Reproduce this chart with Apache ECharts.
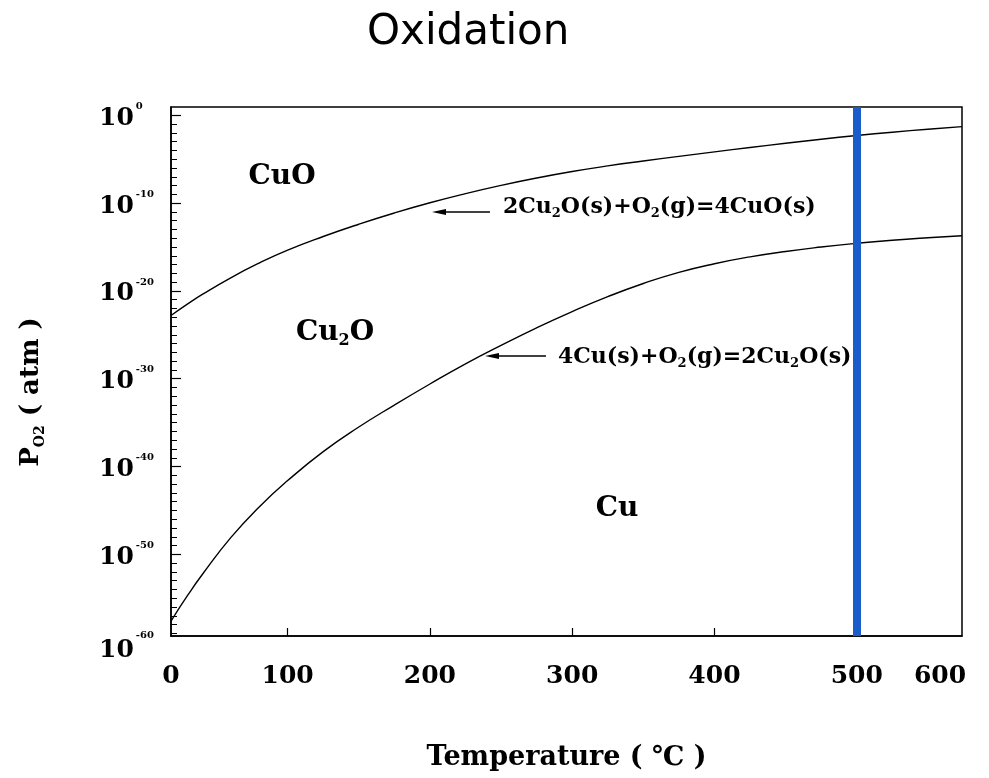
<!DOCTYPE html>
<html>
<head>
<meta charset="utf-8">
<title>Oxidation</title>
<script src="https://cdn.jsdelivr.net/npm/echarts@6/dist/echarts.min.js"></script>
<style>
  html, body { margin: 0; padding: 0; background: #fff; }
  #chart { width: 989px; height: 778px; }
</style>
</head>
<body>
<div id="chart"></div>
<script>
// Temperature samples (°C) for the two equilibrium lines
const tempC = [18, 30, 40, 60, 80, 100, 125, 150, 175, 200, 225, 250, 275, 300, 325, 350, 375, 400, 425, 450, 475, 500, 525, 550, 574];

// log10 of equilibrium O2 pressure (atm): 2Cu2O(s)+O2(g)=4CuO(s)
const cuoLogP = [-22.8, -21.45, -20.4, -18.5, -16.82, -15.35, -13.8, -12.4, -11.12, -9.96, -8.92, -7.98, -7.14, -6.4, -5.76, -5.2, -4.67, -4.16, -3.66, -3.18, -2.72, -2.3, -1.92, -1.58, -1.28];

// log10 of equilibrium O2 pressure (atm): 4Cu(s)+O2(g)=2Cu2O(s)
const cu2oLogP = [-57.6, -54.6, -52.3, -48.1, -44.6, -41.6, -38.3, -35.5, -33.0, -30.6, -28.3, -26.2, -24.2, -22.35, -20.65, -19.15, -17.88, -16.9, -16.12, -15.5, -15.0, -14.58, -14.22, -13.94, -13.72];

// Working temperature marker (°C)
const markerTemp = [500];

// Axis extents and tick values
const tempRange = [18, 574];
const tempTicks = [100, 200, 300, 400, 500];
const logPRange = [-59.3, 0.95];
const logPMajor = [0, -10, -20, -30, -40, -50];

const serif = "'DejaVu Serif', serif";

function pairs(xs, ys) { return xs.map((x, i) => [x, ys[i]]); }
function intsBetween(a, b) {
  const out = [];
  for (let v = Math.ceil(a); v <= Math.floor(b); v++) out.push(v);
  return out;
}

const chart = echarts.init(document.getElementById('chart'), null, { renderer: 'canvas' });

const option = {
  backgroundColor: '#ffffff',
  animation: false,
  title: {
    text: 'Oxidation',
    left: 362,
    top: 7,
    textStyle: { fontFamily: "'DejaVu Sans', sans-serif", fontWeight: 'normal', fontSize: 42, color: '#000' }
  },
  grid: {
    left: 171, right: 27, top: 107, bottom: 142,
    show: true, borderColor: '#000', borderWidth: 1.5,
    outerBoundsMode: 'none'
  },
  xAxis: {
    type: 'value',
    min: tempRange[0], max: tempRange[1],
    name: 'Temperature ( \u2103 )',
    nameLocation: 'middle',
    nameGap: 108,
    nameTextStyle: { fontFamily: serif, fontWeight: 'bold', fontSize: 27, color: '#000' },
    axisLine: { show: true, onZero: false, lineStyle: { color: '#000', width: 1.5 } },
    axisTick: { show: true, inside: true, length: 8, customValues: tempTicks, lineStyle: { color: '#000', width: 1.2 } },
    axisLabel: {
      show: true,
      margin: 28,
      customValues: [tempRange[0]].concat(tempTicks, [tempRange[1]]),
      formatter: v => {
        const n = Math.round(v / 100) * 100;
        return v === tempRange[1] ? '{end|' + n + '}' : '{n|' + n + '}';
      },
      rich: {
        n: { fontFamily: serif, fontWeight: 'bold', fontSize: 25, color: '#000' },
        end: { fontFamily: serif, fontWeight: 'bold', fontSize: 25, color: '#000', padding: [0, 44, 0, 0] }
      }
    },
    splitLine: { show: false }
  },
  yAxis: [
    {
      type: 'value',
      min: logPRange[0], max: logPRange[1],
      axisLine: { show: true, onZero: false, lineStyle: { color: '#000', width: 1.5 } },
      axisTick: { show: true, inside: true, length: 10, customValues: logPMajor, lineStyle: { color: '#000', width: 1.2 } },
      axisLabel: {
        show: true,
        align: 'left',
        margin: 72,
        customValues: logPMajor.concat([logPRange[0]]),
        formatter: v => {
          const e = Math.round(v / 10) * 10;
          const exp = e === 0 ? '0' : String(e);
          return v === logPRange[0] ? '{bl|10}{el|' + exp + '}' : '{b|10}{e|' + exp + '}';
        },
        rich: {
          b: { fontFamily: serif, fontWeight: 'bold', fontSize: 25, color: '#000', lineHeight: 28, padding: [6, 0, 0, 0] },
          e: { fontFamily: serif, fontWeight: 'bold', fontSize: 10, color: '#000', lineHeight: 10, verticalAlign: 'top', padding: [0, 0, 0, 2] },
          bl: { fontFamily: serif, fontWeight: 'bold', fontSize: 25, color: '#000', lineHeight: 28, padding: [28, 0, 0, 0] },
          el: { fontFamily: serif, fontWeight: 'bold', fontSize: 10, color: '#000', lineHeight: 10, verticalAlign: 'top', padding: [8, 0, 0, 2] }
        }
      },
      splitLine: { show: false }
    },
    {
      // decade minor ticks
      type: 'value',
      position: 'left',
      min: logPRange[0], max: logPRange[1],
      axisLine: { show: false },
      axisTick: { show: true, inside: true, length: 6, customValues: intsBetween(logPRange[0], logPRange[1]), lineStyle: { color: '#000', width: 1 } },
      axisLabel: { show: false },
      splitLine: { show: false }
    }
  ],
  series: [
    {
      name: '2Cu2O(s)+O2(g)=4CuO(s)',
      type: 'line',
      data: pairs(tempC, cuoLogP),
      smooth: 0.5,
      showSymbol: false,
      silent: true,
      lineStyle: { color: '#000', width: 1.4 },
      z: 3
    },
    {
      name: '4Cu(s)+O2(g)=2Cu2O(s)',
      type: 'line',
      data: pairs(tempC, cu2oLogP),
      smooth: 0.5,
      showSymbol: false,
      silent: true,
      lineStyle: { color: '#000', width: 1.4 },
      z: 3,
      markLine: {
        silent: true,
        symbol: ['none', 'none'],
        label: { show: false },
        lineStyle: { color: '#1b5ccb', width: 8, type: 'solid' },
        data: markerTemp.map(t => ({ xAxis: t }))
      }
    }
  ],
  graphic: [
    // y-axis title
    {
      type: 'text', x: 31, y: 392, rotation: Math.PI / 2,
      style: {
        text: '{p|P}{s|O2}{p| ( atm )}', align: 'center', verticalAlign: 'middle',
        rich: {
          p: { fontFamily: serif, fontWeight: 'bold', fontSize: 26, fill: '#000', lineHeight: 32 },
          s: { fontFamily: serif, fontWeight: 'bold', fontSize: 14, fill: '#000', verticalAlign: 'bottom', lineHeight: 22 }
        }
      }
    },
    // phase field labels
    {
      type: 'text', x: 282, y: 177,
      style: { text: 'CuO', fontFamily: serif, fontWeight: 'bold', fontSize: 28, fill: '#000', align: 'center', verticalAlign: 'middle' }
    },
    {
      type: 'text', x: 335, y: 333,
      style: {
        text: '{b|Cu}{s|2}{b|O}', align: 'center', verticalAlign: 'middle',
        rich: {
          b: { fontFamily: serif, fontWeight: 'bold', fontSize: 28, fill: '#000', lineHeight: 32 },
          s: { fontFamily: serif, fontWeight: 'bold', fontSize: 16, fill: '#000', verticalAlign: 'bottom', lineHeight: 22 }
        }
      }
    },
    {
      type: 'text', x: 617, y: 509,
      style: { text: 'Cu', fontFamily: serif, fontWeight: 'bold', fontSize: 28, fill: '#000', align: 'center', verticalAlign: 'middle' }
    },
    // reaction labels with pointers
    {
      type: 'text', x: 503, y: 207,
      style: {
        text: '{b|2Cu}{s|2}{b|O(s)+O}{s|2}{b|(g)=4CuO(s)}', align: 'left', verticalAlign: 'middle',
        rich: {
          b: { fontFamily: serif, fontWeight: 'bold', fontSize: 22, fill: '#000', lineHeight: 26 },
          s: { fontFamily: serif, fontWeight: 'bold', fontSize: 13, fill: '#000', verticalAlign: 'bottom', lineHeight: 18 }
        }
      }
    },
    {
      type: 'line', shape: { x1: 490, y1: 212, x2: 444, y2: 212 },
      style: { stroke: '#000', lineWidth: 1.4 }
    },
    {
      type: 'polygon', shape: { points: [[432, 212], [446, 209], [446, 215]] },
      style: { fill: '#000' }
    },
    {
      type: 'text', x: 558, y: 357,
      style: {
        text: '{b|4Cu(s)+O}{s|2}{b|(g)=2Cu}{s|2}{b|O(s)}', align: 'left', verticalAlign: 'middle',
        rich: {
          b: { fontFamily: serif, fontWeight: 'bold', fontSize: 22, fill: '#000', lineHeight: 26 },
          s: { fontFamily: serif, fontWeight: 'bold', fontSize: 13, fill: '#000', verticalAlign: 'bottom', lineHeight: 18 }
        }
      }
    },
    {
      type: 'line', shape: { x1: 546, y1: 356, x2: 498, y2: 356 },
      style: { stroke: '#000', lineWidth: 1.4 }
    },
    {
      type: 'polygon', shape: { points: [[485, 356], [499, 353], [499, 359]] },
      style: { fill: '#000' }
    }
  ]
};

chart.setOption(option);
</script>
</body>
</html>
